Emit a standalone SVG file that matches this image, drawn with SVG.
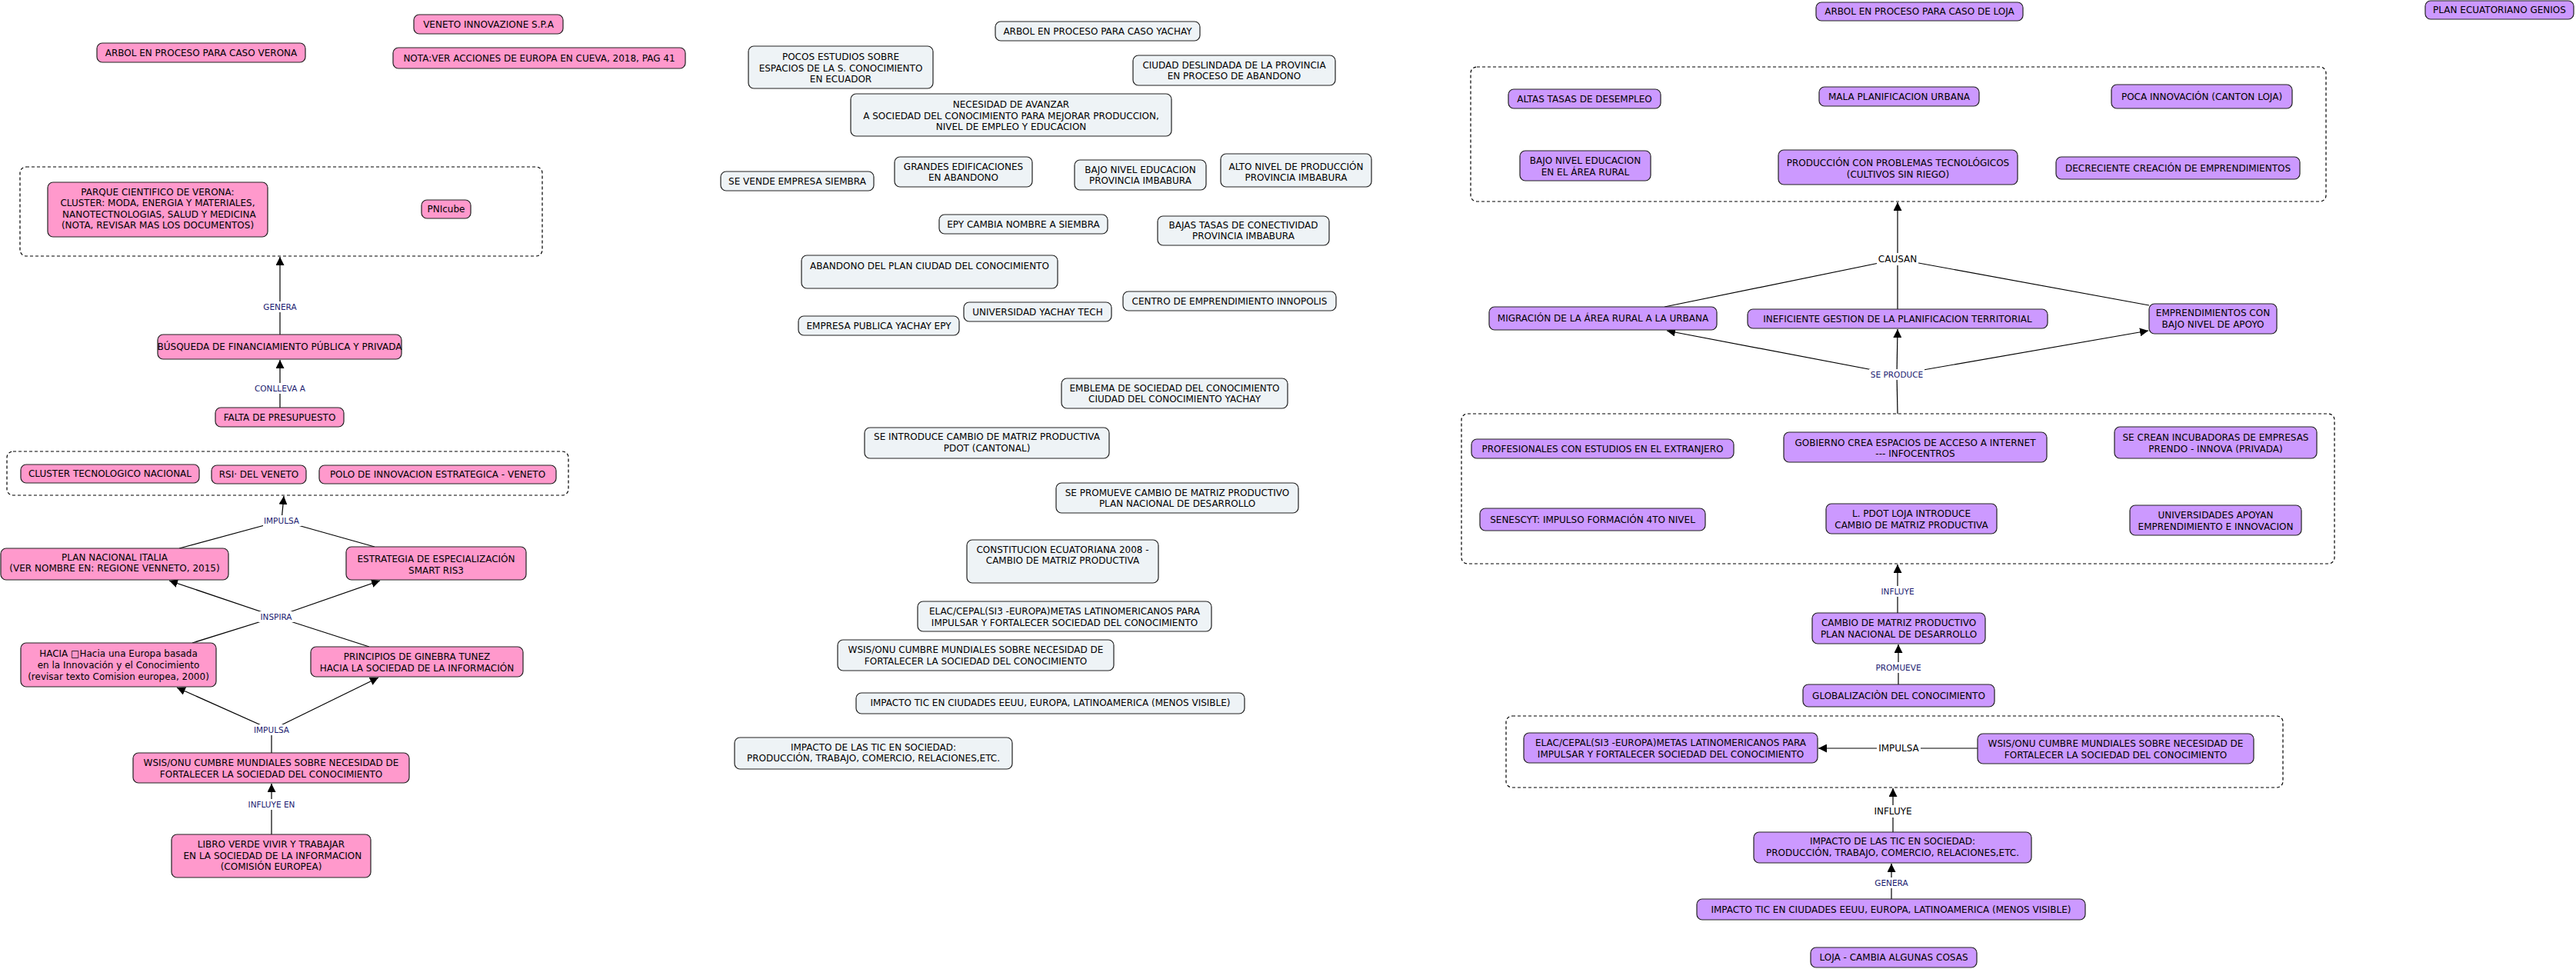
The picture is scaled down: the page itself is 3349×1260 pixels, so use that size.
<svg xmlns="http://www.w3.org/2000/svg" width="3349" height="1260" viewBox="0 0 3349 1260">
<defs>
<marker id="arr" markerUnits="userSpaceOnUse" markerWidth="11" markerHeight="11" refX="10" refY="5" orient="auto" viewBox="0 0 10 10">
<path d="M0,0 L10,5 L0,10 z" fill="#000"/>
</marker>
<style>
.pk{fill:#ff99cc;stroke:#222;stroke-width:1.2}
.lb{fill:#eef3f6;stroke:#222;stroke-width:1.2}
.pu{fill:#cc99ff;stroke:#222;stroke-width:1.2}
.grp{fill:none;stroke:#000;stroke-width:1.2;stroke-dasharray:4 3}
text{font-family:"DejaVu Sans",Verdana,sans-serif;font-size:12px;fill:#000;text-anchor:middle}
.ln{stroke:#000;stroke-width:1.2;fill:none}
.ar{stroke:#000;stroke-width:1.2;fill:none;marker-end:url(#arr)}
.lbg{fill:#fff}
text.nv{font-size:10.5px;fill:#1a1a70}
text.bk{font-size:12px;fill:#000}
</style>
</defs>
<rect width="3349" height="1260" fill="#fff"/>

<g id="connectors">
<!-- left -->
<line class="ar" x1="364" y1="435" x2="364" y2="334"/>
<line class="ar" x1="364" y1="530" x2="364" y2="468"/>
<line class="ln" x1="233" y1="713" x2="366" y2="677"/>
<line class="ln" x1="487" y1="711" x2="366" y2="677"/>
<line class="ar" x1="366" y1="677" x2="369" y2="645"/>
<line class="ln" x1="250" y1="836" x2="359" y2="802"/>
<line class="ln" x1="480" y1="841" x2="359" y2="802"/>
<line class="ar" x1="359" y1="802" x2="220" y2="755"/>
<line class="ar" x1="359" y1="802" x2="494" y2="755"/>
<line class="ln" x1="353" y1="979" x2="353" y2="949"/>
<line class="ar" x1="353" y1="949" x2="230" y2="894"/>
<line class="ar" x1="353" y1="949" x2="492" y2="881"/>
<line class="ar" x1="353" y1="1085" x2="353" y2="1019"/>
<!-- right -->
<line class="ar" x1="2467" y1="337" x2="2467" y2="263"/>
<line class="ln" x1="2164" y1="399" x2="2467" y2="337"/>
<line class="ln" x1="2467" y1="402" x2="2467" y2="337"/>
<line class="ln" x1="2794" y1="397" x2="2467" y2="337"/>
<line class="ln" x1="2467" y1="538" x2="2466" y2="487"/>
<line class="ar" x1="2466" y1="487" x2="2167" y2="430"/>
<line class="ar" x1="2466" y1="487" x2="2467" y2="428"/>
<line class="ar" x1="2466" y1="487" x2="2793" y2="430"/>
<line class="ar" x1="2467" y1="797" x2="2467" y2="734"/>
<line class="ar" x1="2468" y1="890" x2="2468" y2="838"/>
<line class="ar" x1="2571" y1="973" x2="2364" y2="973"/>
<line class="ar" x1="2461" y1="1082" x2="2461" y2="1025"/>
<line class="ar" x1="2459" y1="1169" x2="2459" y2="1123"/>
<!-- label backgrounds -->
<rect class="lbg" x="340" y="392" width="48" height="14"/>
<rect class="lbg" x="329" y="498" width="71" height="14"/>
<rect class="lbg" x="342" y="670" width="50" height="14"/>
<rect class="lbg" x="336" y="795" width="46" height="14"/>
<rect class="lbg" x="329" y="942" width="50" height="14"/>
<rect class="lbg" x="321" y="1039" width="65" height="14"/>
<rect class="lbg" x="2440" y="329" width="54" height="16"/>
<rect class="lbg" x="2430" y="480" width="72" height="14"/>
<rect class="lbg" x="2443" y="762" width="48" height="14"/>
<rect class="lbg" x="2437" y="861" width="63" height="14"/>
<rect class="lbg" x="2440" y="965" width="57" height="16"/>
<rect class="lbg" x="2434" y="1047" width="54" height="16"/>
<rect class="lbg" x="2435" y="1141" width="48" height="14"/>
<!-- labels -->
<text class="nv" x="364" y="403">GENERA</text>
<text class="nv" x="364" y="509">CONLLEVA A</text>
<text class="nv" x="366" y="681">IMPULSA</text>
<text class="nv" x="359" y="806">INSPIRA</text>
<text class="nv" x="353" y="953">IMPULSA</text>
<text class="nv" x="353" y="1050">INFLUYE EN</text>
<text class="bk" x="2467" y="341.4">CAUSAN</text>
<text class="nv" x="2466" y="491">SE PRODUCE</text>
<text class="nv" x="2467" y="773">INFLUYE</text>
<text class="nv" x="2468" y="872">PROMUEVE</text>
<text class="bk" x="2468.5" y="977.4">IMPULSA</text>
<text class="bk" x="2461" y="1059.4">INFLUYE</text>
<text class="nv" x="2459" y="1152">GENERA</text>
</g>

<!-- LEFT: Verona -->
<g id="n_veneto"><rect class="pk" x="538" y="19" width="194" height="25" rx="7"/><text x="635" y="36">VENETO INNOVAZIONE S.P.A</text></g>
<g id="n_arbol_verona"><rect class="pk" x="126" y="56" width="271" height="25" rx="7"/><text x="261.5" y="73">ARBOL EN PROCESO PARA CASO VERONA</text></g>
<g id="n_nota"><rect class="pk" x="511" y="62" width="380" height="27" rx="7"/><text x="701" y="80">NOTA:VER ACCIONES DE EUROPA EN CUEVA, 2018, PAG 41</text></g>
<g id="g_verona1"><rect class="grp" x="26" y="217" width="679" height="116" rx="8"/></g>
<g id="n_parque"><rect class="pk" x="62" y="237" width="286" height="71" rx="7"/><text><tspan x="205" y="253.5">PARQUE CIENTIFICO DE VERONA:</tspan><tspan x="205" y="268">CLUSTER: MODA, ENERGIA Y MATERIALES,</tspan><tspan x="205" y="282.5"> NANOTECTNOLOGIAS, SALUD Y MEDICINA</tspan><tspan x="205" y="297">(NOTA, REVISAR MAS LOS DOCUMENTOS)</tspan></text></g>
<g id="n_pnicube"><rect class="pk" x="548" y="260" width="64" height="24" rx="7"/><text x="580" y="276.4">PNIcube</text></g>
<g id="n_busqueda"><rect class="pk" x="205" y="435" width="317" height="32" rx="7"/><text x="363.5" y="455.4">BÚSQUEDA DE FINANCIAMIENTO PÚBLICA Y PRIVADA</text></g>
<g id="n_falta"><rect class="pk" x="280" y="530" width="167" height="25" rx="7"/><text x="363.5" y="547">FALTA DE PRESUPUESTO</text></g>
<g id="g_verona2"><rect class="grp" x="9" y="587" width="730" height="57" rx="8"/></g>
<g id="n_cluster"><rect class="pk" x="27" y="604" width="232" height="24" rx="7"/><text x="143" y="620.4">CLUSTER TECNOLOGICO NACIONAL</text></g>
<g id="n_rsi"><rect class="pk" x="275" y="605" width="123" height="24" rx="7"/><text x="336.5" y="621.4">RSI· DEL VENETO</text></g>
<g id="n_polo"><rect class="pk" x="415" y="605" width="308" height="24" rx="7"/><text x="569" y="621.4">POLO DE INNOVACION ESTRATEGICA - VENETO</text></g>
<g id="n_plan_italia"><rect class="pk" x="1" y="713" width="296" height="41" rx="7"/><text><tspan x="149" y="728.7">PLAN NACIONAL  ITALIA</tspan><tspan x="149" y="743">(VER NOMBRE EN: REGIONE VENNETO, 2015)</tspan></text></g>
<g id="n_estrategia"><rect class="pk" x="450" y="711" width="234" height="43" rx="7"/><text><tspan x="567" y="731">ESTRATEGIA DE ESPECIALIZACIÓN</tspan><tspan x="567" y="745.5">SMART RIS3</tspan></text></g>
<g id="n_hacia"><rect class="pk" x="27" y="836" width="254" height="57" rx="7"/><text><tspan x="154" y="854">HACIA □Hacia una Europa basada</tspan><tspan x="154" y="869">en la Innovación y el Conocimiento</tspan><tspan x="154" y="883.7">(revisar texto Comision europea, 2000)</tspan></text></g>
<g id="n_principios"><rect class="pk" x="404" y="841" width="276" height="39" rx="7"/><text><tspan x="542" y="858">PRINCIPIOS DE GINEBRA TUNEZ</tspan><tspan x="542" y="872.6">HACIA LA SOCIEDAD DE LA INFORMACIÓN</tspan></text></g>
<g id="n_wsis_l"><rect class="pk" x="173" y="979" width="359" height="39" rx="7"/><text><tspan x="352.5" y="996">WSIS/ONU CUMBRE MUNDIALES SOBRE NECESIDAD DE</tspan><tspan x="352.5" y="1010.5">FORTALECER LA SOCIEDAD DEL CONOCIMIENTO</tspan></text></g>
<g id="n_libro"><rect class="pk" x="223" y="1085" width="259" height="56" rx="7"/><text><tspan x="352.5" y="1102">LIBRO VERDE VIVIR Y TRABAJAR</tspan><tspan x="352.5" y="1117"> EN LA SOCIEDAD DE LA INFORMACION</tspan><tspan x="352.5" y="1131">(COMISIÓN EUROPEA)</tspan></text></g>

<!-- MIDDLE: Yachay -->
<g id="n_arbol_yachay"><rect class="lb" x="1294" y="28" width="266" height="25" rx="7"/><text x="1427" y="45">ARBOL EN PROCESO PARA CASO YACHAY</text></g>
<g id="n_pocos"><rect class="lb" x="973" y="60" width="240" height="55" rx="7"/><text><tspan x="1093" y="77.7">POCOS ESTUDIOS SOBRE</tspan><tspan x="1093" y="92.7">ESPACIOS DE LA S. CONOCIMIENTO</tspan><tspan x="1093" y="107">EN ECUADOR</tspan></text></g>
<g id="n_ciudad"><rect class="lb" x="1473" y="72" width="263" height="39" rx="7"/><text><tspan x="1604.5" y="89.4">CIUDAD DESLINDADA DE LA PROVINCIA</tspan><tspan x="1604.5" y="103.4">EN PROCESO DE ABANDONO</tspan></text></g>
<g id="n_necesidad"><rect class="lb" x="1106" y="122" width="417" height="55" rx="7"/><text><tspan x="1314.5" y="140">NECESIDAD DE  AVANZAR</tspan><tspan x="1314.5" y="155">A SOCIEDAD DEL CONOCIMIENTO PARA MEJORAR PRODUCCION,</tspan><tspan x="1314.5" y="169">NIVEL DE EMPLEO Y EDUCACION</tspan></text></g>
<g id="n_se_vende"><rect class="lb" x="937" y="223" width="199" height="25" rx="7"/><text x="1036.5" y="240">SE VENDE EMPRESA SIEMBRA</text></g>
<g id="n_grandes"><rect class="lb" x="1163" y="204" width="179" height="39" rx="7"/><text><tspan x="1252.5" y="221">GRANDES EDIFICACIONES</tspan><tspan x="1252.5" y="235.4">EN ABANDONO</tspan></text></g>
<g id="n_bajo_prov"><rect class="lb" x="1397" y="208" width="171" height="39" rx="7"/><text><tspan x="1482.5" y="225">BAJO NIVEL EDUCACION</tspan><tspan x="1482.5" y="239.4">PROVINCIA IMBABURA</tspan></text></g>
<g id="n_alto"><rect class="lb" x="1587" y="200" width="196" height="43" rx="7"/><text><tspan x="1685" y="221">ALTO NIVEL DE PRODUCCIÓN</tspan><tspan x="1685" y="235.4">PROVINCIA IMBABURA</tspan></text></g>
<g id="n_epy"><rect class="lb" x="1221" y="279" width="219" height="25" rx="7"/><text x="1330.5" y="296">EPY CAMBIA NOMBRE A SIEMBRA</text></g>
<g id="n_bajas"><rect class="lb" x="1505" y="281" width="223" height="38" rx="7"/><text><tspan x="1616.5" y="296.7">BAJAS TASAS DE CONECTIVIDAD</tspan><tspan x="1616.5" y="311">PROVINCIA IMBABURA</tspan></text></g>
<g id="n_abandono"><rect class="lb" x="1042" y="332" width="333" height="43" rx="7"/><text x="1208.5" y="350">ABANDONO DEL PLAN CIUDAD DEL CONOCIMIENTO</text></g>
<g id="n_centro"><rect class="lb" x="1460" y="379" width="277" height="25" rx="7"/><text x="1598.5" y="396">CENTRO DE EMPRENDIMIENTO INNOPOLIS</text></g>
<g id="n_universidad"><rect class="lb" x="1253" y="393" width="192" height="25" rx="7"/><text x="1349" y="410">UNIVERSIDAD YACHAY TECH</text></g>
<g id="n_empresa_pub"><rect class="lb" x="1038" y="411" width="209" height="25" rx="7"/><text x="1142.5" y="428">EMPRESA PUBLICA YACHAY EPY</text></g>
<g id="n_emblema"><rect class="lb" x="1380" y="492" width="294" height="39" rx="7"/><text><tspan x="1527" y="508.7">EMBLEMA DE SOCIEDAD DEL CONOCIMIENTO</tspan><tspan x="1527" y="523.4">CIUDAD DEL CONOCIMIENTO YACHAY</tspan></text></g>
<g id="n_se_introduce"><rect class="lb" x="1124" y="556" width="318" height="40" rx="7"/><text><tspan x="1283" y="572">SE INTRODUCE CAMBIO DE MATRIZ PRODUCTIVA</tspan><tspan x="1283" y="586.7">PDOT (CANTONAL)</tspan></text></g>
<g id="n_se_promueve"><rect class="lb" x="1373" y="628" width="315" height="39" rx="7"/><text><tspan x="1530.5" y="644.7">SE PROMUEVE CAMBIO DE MATRIZ PRODUCTIVO</tspan><tspan x="1530.5" y="659.4">PLAN NACIONAL DE DESARROLLO</tspan></text></g>
<g id="n_constitucion"><rect class="lb" x="1257" y="702" width="249" height="56" rx="7"/><text><tspan x="1381.5" y="719.4">CONSTITUCION ECUATORIANA 2008 -</tspan><tspan x="1381.5" y="733.4">CAMBIO DE MATRIZ PRODUCTIVA</tspan></text></g>
<g id="n_elac_m"><rect class="lb" x="1193" y="782" width="382" height="39" rx="7"/><text><tspan x="1384" y="799">ELAC/CEPAL(SI3 -EUROPA)METAS LATINOMERICANOS PARA</tspan><tspan x="1384" y="813.7">IMPULSAR Y FORTALECER SOCIEDAD DEL CONOCIMIENTO</tspan></text></g>
<g id="n_wsis_m"><rect class="lb" x="1089" y="832" width="359" height="40" rx="7"/><text><tspan x="1268.5" y="849.4">WSIS/ONU CUMBRE MUNDIALES SOBRE NECESIDAD DE</tspan><tspan x="1268.5" y="864">FORTALECER LA SOCIEDAD DEL CONOCIMIENTO</tspan></text></g>
<g id="n_impacto_ciud_m"><rect class="lb" x="1113" y="901" width="505" height="27" rx="7"/><text x="1365.5" y="918">IMPACTO TIC EN CIUDADES EEUU, EUROPA, LATINOAMERICA (MENOS VISIBLE)</text></g>
<g id="n_impacto_tic_m"><rect class="lb" x="955" y="959" width="361" height="41" rx="7"/><text><tspan x="1135.5" y="975.7">IMPACTO DE LAS TIC EN SOCIEDAD:</tspan><tspan x="1135.5" y="990.4">PRODUCCIÓN,  TRABAJO, COMERCIO, RELACIONES,ETC.</tspan></text></g>

<!-- RIGHT: Loja -->
<g id="n_arbol_loja"><rect class="pu" x="2361" y="3" width="269" height="24" rx="7"/><text x="2495.5" y="19.4">ARBOL EN PROCESO PARA CASO DE LOJA</text></g>
<g id="n_plan_genios"><rect class="pu" x="3153" y="1" width="193" height="24" rx="7"/><text x="3249.5" y="17.4">PLAN ECUATORIANO GENIOS</text></g>
<g id="g_loja1"><rect class="grp" x="1912" y="87" width="1112" height="175" rx="8"/></g>
<g id="n_altas"><rect class="pu" x="1961" y="116" width="198" height="25" rx="7"/><text x="2060" y="133">ALTAS TASAS DE DESEMPLEO</text></g>
<g id="n_mala"><rect class="pu" x="2365" y="113" width="208" height="25" rx="7"/><text x="2469" y="130">MALA PLANIFICACION URBANA</text></g>
<g id="n_poca"><rect class="pu" x="2745" y="110" width="235" height="31" rx="7"/><text x="2862.5" y="130">POCA INNOVACIÓN (CANTON LOJA)</text></g>
<g id="n_bajo_rural"><rect class="pu" x="1976" y="196" width="170" height="39" rx="7"/><text><tspan x="2061" y="213.4">BAJO NIVEL EDUCACION</tspan><tspan x="2061" y="227.7">EN EL ÁREA RURAL</tspan></text></g>
<g id="n_produccion"><rect class="pu" x="2312" y="195" width="311" height="45" rx="7"/><text><tspan x="2467.5" y="216.4">PRODUCCIÓN CON PROBLEMAS TECNOLÓGICOS</tspan><tspan x="2467.5" y="230.7">(CULTIVOS SIN RIEGO)</tspan></text></g>
<g id="n_decreciente"><rect class="pu" x="2673" y="204" width="317" height="29" rx="7"/><text x="2831.5" y="223">DECRECIENTE CREACIÓN DE EMPRENDIMIENTOS</text></g>
<g id="n_migracion"><rect class="pu" x="1936" y="399" width="296" height="30" rx="7"/><text x="2084" y="418.4">MIGRACIÓN DE LA ÁREA RURAL A LA URBANA</text></g>
<g id="n_ineficiente"><rect class="pu" x="2272" y="402" width="390" height="25" rx="7"/><text x="2467" y="419">INEFICIENTE  GESTION DE LA PLANIFICACION TERRITORIAL</text></g>
<g id="n_emprendimientos"><rect class="pu" x="2794" y="395" width="166" height="39" rx="7"/><text><tspan x="2877" y="411.4">EMPRENDIMIENTOS CON</tspan><tspan x="2877" y="426">BAJO NIVEL DE APOYO</tspan></text></g>
<g id="g_loja2"><rect class="grp" x="1900" y="538" width="1135" height="195" rx="8"/></g>
<g id="n_profesionales"><rect class="pu" x="1913" y="571" width="341" height="25" rx="7"/><text x="2083.5" y="588">PROFESIONALES CON ESTUDIOS EN EL EXTRANJERO</text></g>
<g id="n_gobierno"><rect class="pu" x="2319" y="562" width="342" height="39" rx="7"/><text><tspan x="2490" y="580">GOBIERNO CREA ESPACIOS DE ACCESO A INTERNET</tspan><tspan x="2490" y="594.4">--- INFOCENTROS</tspan></text></g>
<g id="n_incubadoras"><rect class="pu" x="2749" y="555" width="263" height="41" rx="7"/><text><tspan x="2880.5" y="572.7">SE CREAN INCUBADORAS DE EMPRESAS</tspan><tspan x="2880.5" y="587.7">PRENDO - INNOVA (PRIVADA)</tspan></text></g>
<g id="n_senescyt"><rect class="pu" x="1924" y="661" width="293" height="29" rx="7"/><text x="2070.5" y="680">SENESCYT: IMPULSO FORMACIÓN 4TO NIVEL</text></g>
<g id="n_lpdot"><rect class="pu" x="2374" y="655" width="222" height="39" rx="7"/><text><tspan x="2485" y="672.4">L. PDOT LOJA INTRODUCE</tspan><tspan x="2485" y="686.7">CAMBIO DE MATRIZ PRODUCTIVA</tspan></text></g>
<g id="n_universidades"><rect class="pu" x="2769" y="657" width="223" height="39" rx="7"/><text><tspan x="2880.5" y="674">UNIVERSIDADES APOYAN</tspan><tspan x="2880.5" y="688.7">EMPRENDIMIENTO E INNOVACION</tspan></text></g>
<g id="n_cambio"><rect class="pu" x="2356" y="797" width="225" height="40" rx="7"/><text><tspan x="2468.5" y="814.4">CAMBIO DE MATRIZ PRODUCTIVO</tspan><tspan x="2468.5" y="828.7">PLAN NACIONAL DE DESARROLLO</tspan></text></g>
<g id="n_glob"><rect class="pu" x="2344" y="890" width="249" height="29" rx="7"/><text x="2468.5" y="909">GLOBALIZACIÒN DEL CONOCIMIENTO</text></g>
<g id="g_loja3"><rect class="grp" x="1958" y="931" width="1010" height="93" rx="8"/></g>
<g id="n_elac_r"><rect class="pu" x="1981" y="953" width="382" height="39" rx="7"/><text><tspan x="2172" y="970.4">ELAC/CEPAL(SI3 -EUROPA)METAS LATINOMERICANOS PARA</tspan><tspan x="2172" y="984.7">IMPULSAR Y FORTALECER SOCIEDAD DEL CONOCIMIENTO</tspan></text></g>
<g id="n_wsis_r"><rect class="pu" x="2571" y="954" width="359" height="39" rx="7"/><text><tspan x="2750.5" y="971.4">WSIS/ONU CUMBRE MUNDIALES SOBRE NECESIDAD DE</tspan><tspan x="2750.5" y="985.7">FORTALECER LA SOCIEDAD DEL CONOCIMIENTO</tspan></text></g>
<g id="n_impacto_tic_r"><rect class="pu" x="2280" y="1082" width="361" height="40" rx="7"/><text><tspan x="2460.5" y="1098">IMPACTO DE LAS TIC EN SOCIEDAD:</tspan><tspan x="2460.5" y="1112.7">PRODUCCIÓN,  TRABAJO, COMERCIO, RELACIONES,ETC.</tspan></text></g>
<g id="n_impacto_ciud_r"><rect class="pu" x="2206" y="1169" width="505" height="27" rx="7"/><text x="2458.5" y="1186.7">IMPACTO TIC EN CIUDADES EEUU, EUROPA, LATINOAMERICA (MENOS VISIBLE)</text></g>
<g id="n_loja"><rect class="pu" x="2354" y="1232" width="216" height="26" rx="7"/><text x="2462" y="1249.4">LOJA - CAMBIA ALGUNAS COSAS</text></g>
</svg>
